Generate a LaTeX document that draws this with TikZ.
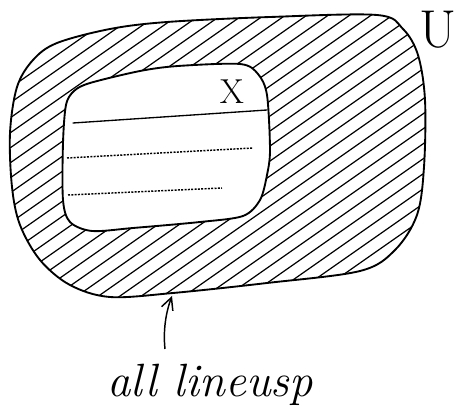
\documentclass[tikz,border=0pt]{standalone}
\usetikzlibrary{arrows.meta}
\tikzset{
  outline/.style={line width=1.4pt, line join=round, line cap=round},
  hatch/.style={line width=0.9pt},
  inline/.style={line width=1pt, line cap=round},
  faintline/.style={line width=1.1pt, dash pattern=on 1.5pt off 1pt},
  hand/.style={inner sep=0pt}
}
\begin{document}
\begin{tikzpicture}[x=0.75pt, y=-0.75pt]
\useasboundingbox (0,0) rectangle (458,410);
\def\outerpath{plot[smooth cycle, tension=0.55] coordinates {(57,43) (110,29) (167,22) (270,17) (377,15) (403,29) (418,55) (425,100) (424,167) (417,215) (395,250) (360,271) (267,283) (173,293) (110,297) (70,285) (40,260) (20,225) (12,187) (10,133) (17,87) (33,60)}}
\def\innerpath{plot[smooth cycle, tension=0.5] coordinates {(90,83) (140,71) (178,66) (240,64) (258,74) (267,95) (270,150) (267,175) (260,200) (243,216) (200,222) (133,228) (92,231) (70,222) (63,200) (63,143) (66,105) (74,91)}}
% hatching in the ring
\begin{scope}[even odd rule]
  \clip \outerpath \innerpath;
  \foreach \c in {5,20,...,620} \draw[hatch] (-10,{\c+7}) -- (470,{\c-329});
\end{scope}
% outer region
\draw[outline] \outerpath;
\coordinate (tip) at (172,296);
% inner region
\draw[outline] \innerpath;
% lines inside X
\coordinate (l1a) at (73,123); \coordinate (l1b) at (267,110);
\coordinate (l2a) at (67,158); \coordinate (l2b) at (253,148);
\coordinate (l3a) at (68,195); \coordinate (l3b) at (222,188);
\draw[inline] (l1a) -- (l1b);
\draw[faintline] (l2a) -- (l2b);
\draw[faintline] (l3a) -- (l3b);
% labels
\node[hand, font=\fontsize{26}{28}\selectfont] (X) at (232,92) {X};
\node[hand, font=\fontsize{40}{42}\selectfont] (U) at (438,30) {U};
\node[hand, font=\fontsize{35}{37}\selectfont\itshape, anchor=base] (lbl) at (210,397) {all lineusp};
\coordinate (tail) at (165,349);
\draw[line width=1.1pt, -{Straight Barb[length=9pt, width=9pt]}] (tail) .. controls (163,330) and (166,312) .. (tip);
\end{tikzpicture}
\end{document}
